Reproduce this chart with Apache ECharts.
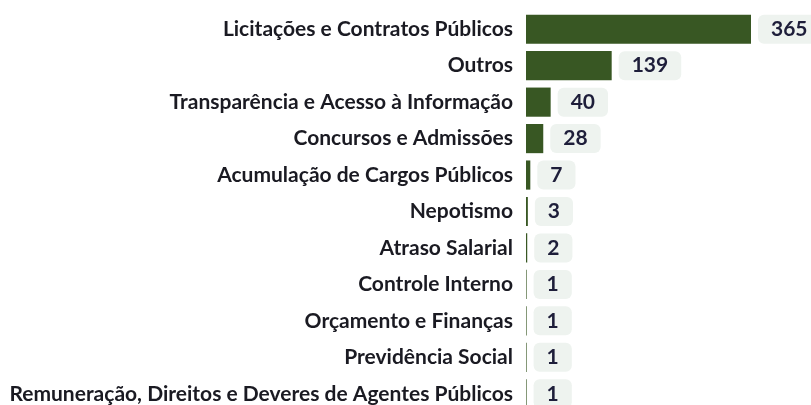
<!DOCTYPE html>
<html>
<head>
<meta charset="utf-8">
<script src="https://cdn.jsdelivr.net/npm/echarts@6/dist/echarts.min.js"></script>
<style>
  html, body { margin: 0; padding: 0; background: #fff; overflow: hidden; }
  #chart { width: 811px; height: 412px; }
</style>
</head>
<body>
<div id="chart"></div>
<script>
// categorias e valores
const categorias = [
  "Licitações e Contratos Públicos",
  "Outros",
  "Transparência e Acesso à Informação",
  "Concursos e Admissões",
  "Acumulação de Cargos Públicos",
  "Nepotismo",
  "Atraso Salarial",
  "Controle Interno",
  "Orçamento e Finanças",
  "Previdência Social",
  "Remuneração, Direitos e Deveres de Agentes Públicos",
];
const valores = [365, 139, 40, 28, 7, 3, 2, 1, 1, 1, 1];

const chart = echarts.init(document.getElementById("chart"));

const option = {
  animation: false,
  grid: {
    left: 526,
    right: 60,
    top: 11,
    bottom: 0,
    containLabel: false,
  },
  xAxis: {
    type: "value",
    min: 0,
    max: 365,
    show: false,
  },
  yAxis: {
    type: "category",
    data: categorias,
    inverse: true,
    axisLine: { show: false },
    axisTick: { show: false },
    axisLabel: {
      margin: 13,
      fontFamily: "Lato",
      fontWeight: "bold",
      fontSize: 21,
      color: "#1a1a22",
    },
  },
  series: [
    {
      type: "bar",
      data: valores,
      barWidth: "80%",
      itemStyle: { color: "#385723" },
      label: {
        show: true,
        position: "right",
        distance: 7,
        fontFamily: "Lato",
        fontWeight: "bold",
        fontSize: 21,
        color: "#1e1e3a",
        backgroundColor: "#eef3ef",
        borderRadius: 6,
        padding: [4, 13, 4, 13],
      },
    },
  ],
};

chart.setOption(option);
</script>
</body>
</html>
